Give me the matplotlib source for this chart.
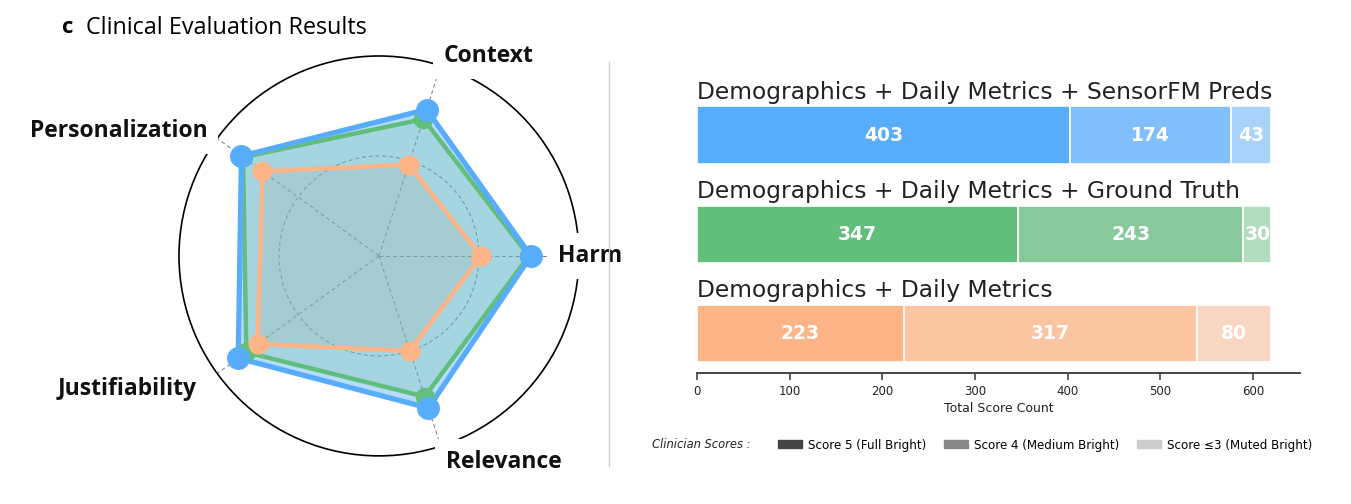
import numpy as np
import matplotlib
matplotlib.use("Agg")
import matplotlib.pyplot as plt
from matplotlib.patches import Patch
from matplotlib.lines import Line2D

# radar data (score, % of max)
categories = ["Harm", "Context", "Personalization", "Justifiability", "Relevance"]
sensorfm = [76, 77, 85, 87, 80]
ground_truth = [75, 72, 84, 82, 74]
baseline = [51, 48, 72, 75, 50]

# bar data
groups = ["Demographics + Daily Metrics + SensorFM Preds",
          "Demographics + Daily Metrics + Ground Truth",
          "Demographics + Daily Metrics"]
score5 = [403, 347, 223]
score4 = [174, 243, 317]
score3 = [43, 30, 80]

blue = ["#57acfc", "#80bffc", "#a9d3fa"]
green = ["#62be7b", "#88c99c", "#b1dcbd"]
orange = ["#fdb487", "#fbc5a1", "#f8d7c2"]

fig = plt.figure(figsize=(13.51, 5.04), dpi=100)

# ---- radar ----
ax = fig.add_axes([0.1325, 0.0952, 0.296, 0.794], polar=True)
n = len(categories)
ang = np.linspace(0, 2 * np.pi, n, endpoint=False)
angc = np.concatenate([ang, ang[:1]])

def closed(v):
    v = np.array(v) / 100.0
    return np.concatenate([v, v[:1]])

ax.fill(angc, closed(baseline), color=orange[0], alpha=0.25, lw=0, zorder=2)
ax.fill(angc, closed(sensorfm), color=blue[0], alpha=0.42, lw=0, zorder=2)
ax.fill(angc, closed(ground_truth), color=green[0], alpha=0.22, lw=0, zorder=2)
ax.plot(angc, closed(ground_truth), color=green[0], lw=3.2, zorder=3)
ax.plot(angc, closed(sensorfm), color=blue[0], lw=3.8, zorder=4)
ax.plot(ang, closed(ground_truth)[:-1], "o", color=green[0], ms=13, zorder=5)
ax.plot(ang, closed(sensorfm)[:-1], "o", color=blue[0], ms=15.5, zorder=6)
ax.plot(angc, closed(baseline), color=orange[0], lw=3.2, zorder=7)
ax.plot(ang, closed(baseline)[:-1], "o", color=orange[0], ms=13.5, zorder=8)

ax.set_ylim(0, 1)
ax.set_yticks([0.5])
ax.set_yticklabels([])
ax.set_xticks(ang)
ax.set_xticklabels([])
ax.grid(True, color="#777777", ls=(0, (4, 3)), lw=0.7)
ax.spines["polar"].set_color("black")
ax.spines["polar"].set_linewidth(1.2)

lab_r = {"Harm": 0.895, "Context": 1.05, "Personalization": 1.06,
         "Justifiability": 1.13, "Relevance": 1.085}
for a, c in zip(ang, categories):
    ha = "left" if (np.cos(a) > 0.1) else "right"
    ax.text(a, lab_r[c], c, ha=ha, va="center", fontsize=16.5, fontweight="bold",
            family="Open Sans", color="#111111", zorder=10, clip_on=False,
            bbox=dict(fc="white", ec="none", pad=8))

fig.text(0.046, 0.945, "c", fontsize=16, fontweight="bold", family="Open Sans",
         va="center")
fig.text(0.0635, 0.945, "Clinical Evaluation Results", fontsize=16.8,
         family="Open Sans", va="center")

# divider
fig.add_artist(Line2D([609 / 1351, 609 / 1351], [1 - 62 / 504, 1 - 466 / 504],
                      color="#cccccc", lw=1))

# ---- stacked bars ----
bx = fig.add_axes([697 / 1351, 0.26, 603 / 1351, 0.601])
y = np.arange(len(groups))
h = 0.58
cols = [blue, green, orange]
for i in range(len(groups)):
    segs = [score5[i], score4[i], score3[i]]
    left = 0
    for j, v in enumerate(segs):
        bx.barh(y[i], v, left=left, height=h, color=cols[i][j],
                edgecolor="white", lw=1.2)
        bx.text(left + v / 2, y[i], str(v), ha="center", va="center",
                color="white", fontsize=13.5, fontweight="bold")
        left += v
    bx.annotate(groups[i], (0, y[i] - h / 2), xytext=(0, 2),
                textcoords="offset points", ha="left", va="bottom",
                fontsize=16.8, color="#222222")

bx.set_ylim(2.4, -0.657)
bx.set_xlim(0, 651)
bx.set_yticks([])
for s in ["left", "right", "top"]:
    bx.spines[s].set_visible(False)
bx.spines["bottom"].set_color("#444444")
bx.spines["bottom"].set_linewidth(1.4)
bx.tick_params(axis="x", colors="#444444", labelsize=8.5, length=5, width=1.2,
               labelcolor="#222222")
bx.set_xticks([0, 100, 200, 300, 400, 500, 600])
bx.set_xlabel("Total Score Count", fontsize=9, color="#222222", labelpad=3)

# legend
handles = [Patch(color="#444444"), Patch(color="#888888"), Patch(color="#cccccc")]
labels = ["Score 5 (Full Bright)", "Score 4 (Medium Bright)",
          "Score \u22643 (Muted Bright)"]
fig.text(652 / 1351, 1 - 445 / 504, "Clinician Scores :", fontsize=8.3,
         style="italic", color="#222222", va="center")
fig.legend(handles, labels, ncol=3, frameon=False, fontsize=8.6,
           loc="center left", bbox_to_anchor=(767 / 1351, 1 - 445 / 504),
           handlelength=2.0, handleheight=0.6, columnspacing=1.5,
           handletextpad=0.5)

fig.savefig("out.png", dpi=100)
